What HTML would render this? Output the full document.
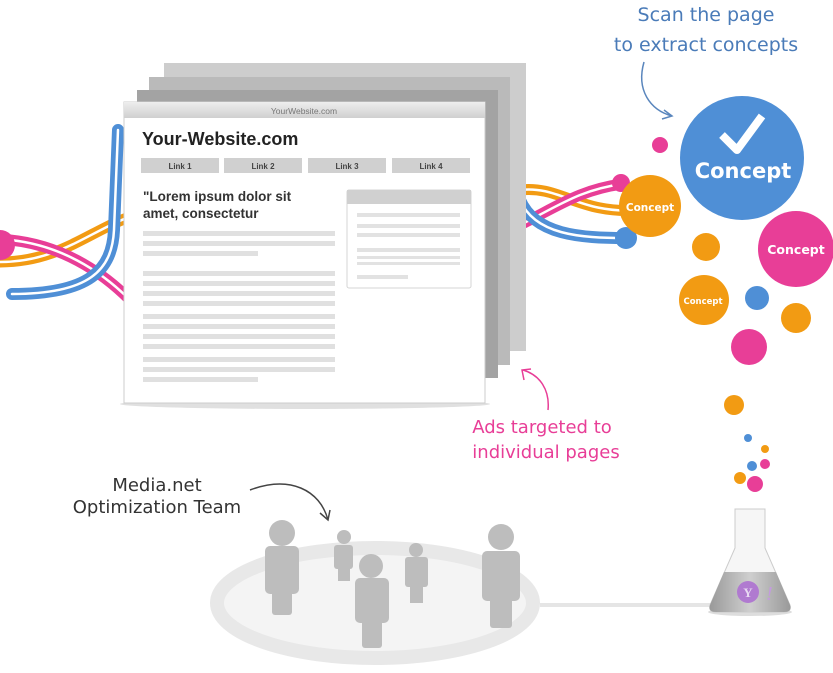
<!DOCTYPE html>
<html><head><meta charset="utf-8"><style>
html,body{margin:0;padding:0;background:#fff;width:833px;height:673px;overflow:hidden}
svg{display:block}
.hand{font-family:"DejaVu Sans","Liberation Sans",sans-serif}
</style></head><body>
<svg width="833" height="673" viewBox="0 0 833 673" xmlns="http://www.w3.org/2000/svg">
<defs>
<linearGradient id="tb" x1="0" y1="0" x2="0" y2="1"><stop offset="0" stop-color="#eee"/><stop offset="1" stop-color="#cfcfcf"/></linearGradient>
<linearGradient id="fl" x1="0" y1="0" x2="1" y2="0"><stop offset="0" stop-color="#999"/><stop offset="0.5" stop-color="#cfcfcf"/><stop offset="1" stop-color="#999"/></linearGradient>
</defs>
<g fill="none" stroke-linecap="round">
<path d="M0 262 C60 262 90 230 135 215" stroke="#f29b13" stroke-width="11"/>
<path d="M0 262 C60 262 90 230 135 215" stroke="#fff" stroke-width="2.5"/>
<path d="M10 240 C60 245 100 270 130 300" stroke="#e83e97" stroke-width="11"/>
<path d="M10 240 C60 245 100 270 130 300" stroke="#fff" stroke-width="2.5"/>
<path d="M12 294 C90 294 112 270 114 230 L118 130" stroke="#4f8fd6" stroke-width="12"/>
<path d="M12 294 C90 294 112 270 114 230 L118 130" stroke="#fff" stroke-width="2.5"/>
<path d="M520 190 C560 185 580 215 640 210" stroke="#f29b13" stroke-width="11"/>
<path d="M520 190 C560 185 580 215 640 210" stroke="#fff" stroke-width="2.5"/>
<path d="M520 225 C560 205 580 190 622 184" stroke="#e83e97" stroke-width="11"/>
<path d="M520 225 C560 205 580 190 622 184" stroke="#fff" stroke-width="2.5"/>
<path d="M520 200 C535 235 580 238 626 238" stroke="#4f8fd6" stroke-width="12"/>
<path d="M520 200 C535 235 580 238 626 238" stroke="#fff" stroke-width="2.5"/>
</g>
<circle cx="0" cy="245" r="15" fill="#e83e97"/>
<circle cx="621" cy="183" r="9" fill="#e83e97"/>
<circle cx="626" cy="238" r="11" fill="#4f8fd6"/>
<rect x="164" y="63" width="362" height="288" fill="#cdcdcd"/>
<rect x="149" y="77" width="361" height="288" fill="#bababa"/>
<rect x="137" y="90" width="361" height="288" fill="#a3a3a3"/>
<ellipse cx="305" cy="404" rx="185" ry="5" fill="#ccc" opacity="0.6"/>
<rect x="124" y="102" width="361" height="301" fill="#fff" stroke="#ccc"/>
<rect x="124" y="102" width="361" height="16" fill="url(#tb)"/>
<text x="304" y="114" font-family="Liberation Sans" font-size="8.5" fill="#777" text-anchor="middle">YourWebsite.com</text>
<text x="142" y="145" font-family="Liberation Sans" font-size="18" font-weight="bold" fill="#222">Your-Website.com</text>
<g fill="#d0d0d0"><rect x="141" y="158" width="78" height="15"/><rect x="224" y="158" width="78" height="15"/><rect x="308" y="158" width="78" height="15"/><rect x="392" y="158" width="78" height="15"/></g>
<g font-family="Liberation Sans" font-size="8" font-weight="bold" fill="#444" text-anchor="middle"><text x="180" y="169">Link 1</text><text x="263" y="169">Link 2</text><text x="347" y="169">Link 3</text><text x="431" y="169">Link 4</text></g>
<text x="143" y="201" font-family="Liberation Sans" font-size="13.5" font-weight="bold" fill="#333">"Lorem ipsum dolor sit</text>
<text x="143" y="218" font-family="Liberation Sans" font-size="13.5" font-weight="bold" fill="#333">amet, consectetur</text>
<g fill="#e0e0e0">
<rect x="143" y="231" width="192" height="5"/><rect x="143" y="241" width="192" height="5"/><rect x="143" y="251" width="115" height="5"/>
<rect x="143" y="271" width="192" height="5"/><rect x="143" y="281" width="192" height="5"/><rect x="143" y="291" width="192" height="5"/><rect x="143" y="301" width="192" height="5"/>
<rect x="143" y="314" width="192" height="5"/><rect x="143" y="324" width="192" height="5"/><rect x="143" y="334" width="192" height="5"/><rect x="143" y="344" width="192" height="5"/>
<rect x="143" y="357" width="192" height="5"/><rect x="143" y="367" width="192" height="5"/><rect x="143" y="377" width="115" height="5"/>
</g>
<rect x="347" y="190" width="124" height="98" rx="2" fill="#fff" stroke="#d4d4d4"/>
<rect x="347" y="190" width="124" height="14" fill="#d0d0d0"/>
<g fill="#e2e2e2"><rect x="357" y="213" width="103" height="4"/><rect x="357" y="224" width="103" height="4"/><rect x="357" y="233" width="103" height="4"/><rect x="357" y="248" width="103" height="4"/><rect x="357" y="256" width="103" height="3"/><rect x="357" y="262" width="103" height="3"/><rect x="357" y="275" width="51" height="4"/></g>
<circle cx="742" cy="158" r="62" fill="#4f8fd6"/>
<path d="M722 135 L737 150 L762 116" fill="none" stroke="#fff" stroke-width="8" stroke-linejoin="round"/>
<text x="743" y="178" font-family="DejaVu Sans" font-weight="bold" font-size="21" fill="#fff" text-anchor="middle">Concept</text>
<circle cx="650" cy="206" r="31" fill="#f29b13"/>
<text x="650" y="211" font-family="DejaVu Sans" font-weight="bold" font-size="10.5" fill="#fff" text-anchor="middle">Concept</text>
<circle cx="796" cy="249" r="38" fill="#e83e97"/>
<text x="796" y="254" font-family="DejaVu Sans" font-weight="bold" font-size="12.5" fill="#fff" text-anchor="middle">Concept</text>
<circle cx="704" cy="300" r="25" fill="#f29b13"/>
<text x="703" y="304" font-family="DejaVu Sans" font-weight="bold" font-size="8.5" fill="#fff" text-anchor="middle">Concept</text>
<circle cx="660" cy="145" r="8" fill="#e83e97"/>
<circle cx="706" cy="247" r="14" fill="#f29b13"/>
<circle cx="757" cy="298" r="12" fill="#4f8fd6"/>
<circle cx="796" cy="318" r="15" fill="#f29b13"/>
<circle cx="749" cy="347" r="18" fill="#e83e97"/>
<circle cx="734" cy="405" r="10" fill="#f29b13"/>
<circle cx="748" cy="438" r="4" fill="#4f8fd6"/>
<circle cx="765" cy="449" r="4" fill="#f29b13"/>
<circle cx="752" cy="466" r="5" fill="#4f8fd6"/>
<circle cx="765" cy="464" r="5" fill="#e83e97"/>
<circle cx="740" cy="478" r="6" fill="#f29b13"/>
<circle cx="755" cy="484" r="8" fill="#e83e97"/>
<text x="706" y="21" class="hand" font-size="19" fill="#4a7bb8" text-anchor="middle">Scan the page</text>
<text x="706" y="51" class="hand" font-size="19" fill="#4a7bb8" text-anchor="middle">to extract concepts</text>
<path d="M644 62 C636 90 650 110 672 116 M664 110 L672 116 L662 119" fill="none" stroke="#5a86bd" stroke-width="1.5"/>
<text x="542" y="433" class="hand" font-size="18" fill="#e83e97" text-anchor="middle">Ads targeted to</text>
<text x="546" y="458" class="hand" font-size="18" fill="#e83e97" text-anchor="middle">individual pages</text>
<path d="M548 410 C550 390 540 375 523 370 M524 380 L522 370 L531 369" fill="none" stroke="#e83e97" stroke-width="1.5"/>
<text x="157" y="491" class="hand" font-size="18" fill="#333" text-anchor="middle">Media.net</text>
<text x="157" y="513" class="hand" font-size="18" fill="#333" text-anchor="middle">Optimization Team</text>
<path d="M250 490 C290 475 320 490 328 520 M320 513 L328 520 L330 510" fill="none" stroke="#444" stroke-width="1.5"/>
<line x1="540" y1="605" x2="715" y2="605" stroke="#e5e5e5" stroke-width="4"/>
<ellipse cx="375" cy="603" rx="158" ry="55" fill="#f4f4f4" stroke="#e8e8e8" stroke-width="14"/>
<g fill="#bdbdbd">
<circle cx="282" cy="533" r="13"/><rect x="265" y="546" width="34" height="48" rx="5"/><rect x="272" y="585" width="20" height="30" rx="3"/>
<circle cx="344" cy="537" r="7"/><rect x="334" y="545" width="19" height="24" rx="3"/><rect x="338" y="565" width="12" height="16"/>
<circle cx="371" cy="566" r="12"/><rect x="355" y="578" width="34" height="45" rx="5"/><rect x="362" y="618" width="20" height="30" rx="3"/>
<circle cx="416" cy="550" r="7"/><rect x="405" y="557" width="23" height="30" rx="3"/><rect x="410" y="583" width="13" height="20"/>
<circle cx="501" cy="537" r="13"/><rect x="482" y="551" width="38" height="50" rx="5"/><rect x="490" y="596" width="22" height="32" rx="3"/>
</g>
<ellipse cx="750" cy="612" rx="42" ry="4" fill="#ddd"/>
<path d="M735 509 L765 509 L765 548 L790 605 Q792 612 784 612 L716 612 Q708 612 710 605 L735 548 Z" fill="#f6f6f6" stroke="#ccc"/>
<path d="M724 572 L776 572 L790 605 Q792 612 784 612 L716 612 Q708 612 710 605 Z" fill="url(#fl)"/>
<circle cx="748" cy="592" r="11" fill="#b07ad0"/>
<text x="748" y="597" font-family="Liberation Serif" font-size="13" font-weight="bold" fill="#e8d8f2" text-anchor="middle">Y</text>
<text x="766" y="600" font-family="Liberation Serif" font-size="20" font-style="italic" fill="#c49adf">!</text>
</svg>
</body></html>
